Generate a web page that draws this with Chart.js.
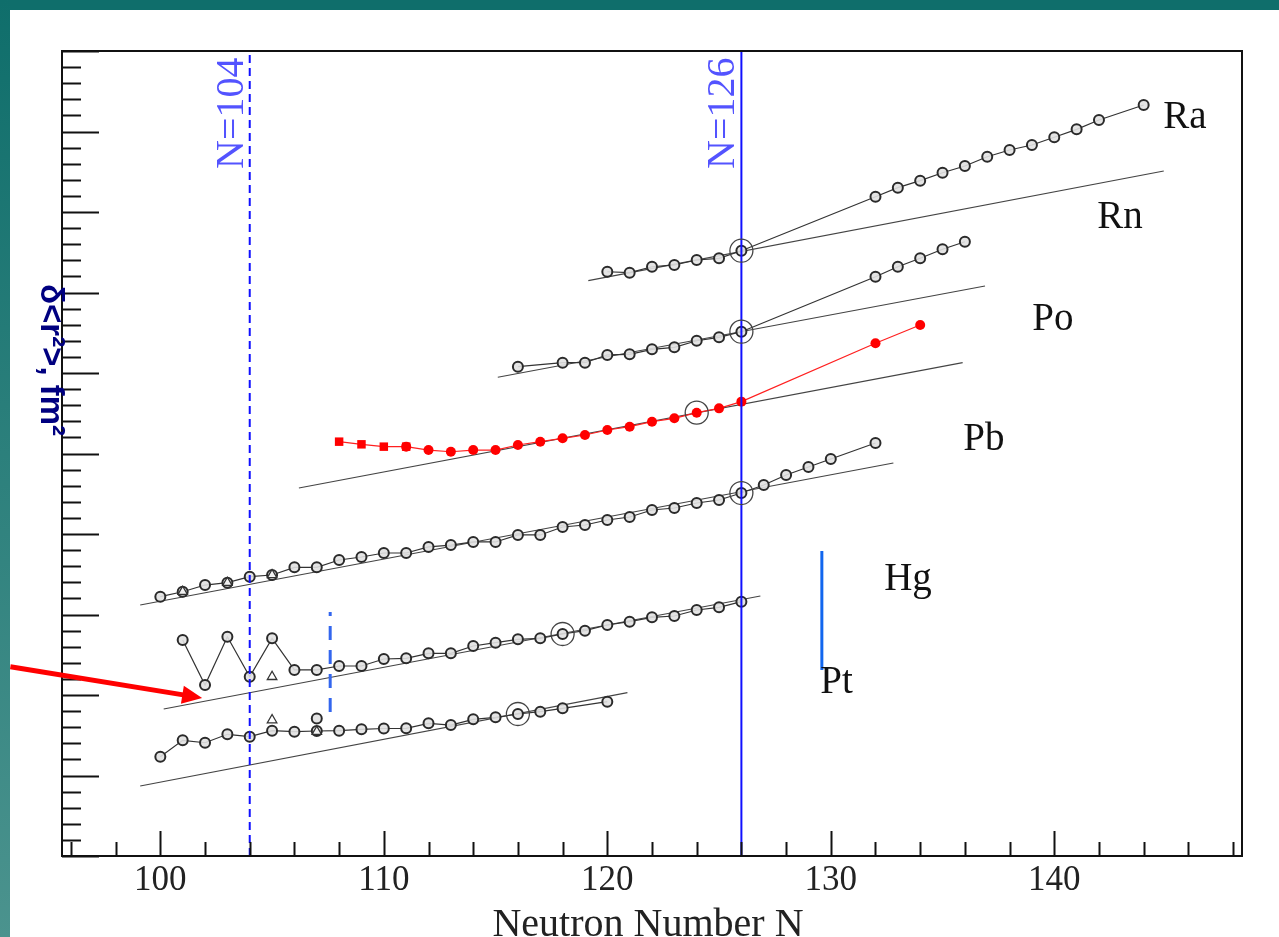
<!DOCTYPE html>
<html lang="en">
<head>
    <meta charset="UTF-8">
    <title>Charge radii vs neutron number</title>
    <script src="https://cdn.jsdelivr.net/npm/chart.js"></script>
    <style>
        html, body {
            margin: 0;
            padding: 0;
            width: 1279px;
            height: 937px;
            overflow: hidden;
            background: #ffffff;
        }
        #topBand {
            position: absolute;
            left: 0; top: 0;
            width: 1279px; height: 10px;
            background: #0f6e6b;
        }
        #leftBand {
            position: absolute;
            left: 0; top: 0;
            width: 10px; height: 937px;
            background: linear-gradient(#0f6e6b, #4b938e);
        }
        #myChart {
            position: absolute;
            left: 0; top: 0;
        }
    </style>
</head>
<body>
<div id="topBand"></div>
<div id="leftBand"></div>
<canvas id="myChart" width="1279" height="937"></canvas>

<script>
    // neutron numbers and delta<r^2> (arbitrary axis units)
    const ptN = [100, 101, 102, 103, 104, 105, 106, 107, 108, 109, 110, 111, 112, 113, 114, 115, 116, 117, 118, 120];
    const ptR = [1.234, 1.437, 1.407, 1.512, 1.482, 1.557, 1.544, 1.553, 1.557, 1.574, 1.584, 1.586, 1.648, 1.627, 1.698, 1.723, 1.764, 1.793, 1.835, 1.917];

    const hgN = [101, 102, 103, 104, 105, 106, 107, 108, 109, 110, 111, 112, 113, 114, 115, 116, 117, 118, 119, 120, 121, 122, 123, 124, 125, 126];
    const hgR = [2.683, 2.124, 2.724, 2.227, 2.704, 2.311, 2.311, 2.360, 2.360, 2.447, 2.456, 2.518, 2.518, 2.609, 2.650, 2.692, 2.704, 2.758, 2.799, 2.870, 2.911, 2.965, 2.981, 3.056, 3.089, 3.159];

    const pbN = [100, 101, 102, 103, 104, 105, 106, 107, 108, 109, 110, 111, 112, 113, 114, 115, 116, 117, 118, 119, 120, 121, 122, 123, 124, 125, 126, 127, 128, 129, 130, 132];
    const pbR = [3.221, 3.283, 3.366, 3.395, 3.470, 3.491, 3.586, 3.586, 3.677, 3.714, 3.764, 3.764, 3.839, 3.863, 3.901, 3.901, 3.988, 3.988, 4.087, 4.112, 4.174, 4.211, 4.298, 4.323, 4.385, 4.422, 4.509, 4.609, 4.733, 4.832, 4.932, 5.130];

    const redSqN = [108, 109, 110, 111];
    const redSqR = [5.147, 5.114, 5.085, 5.085];
    const redN = [111, 112, 113, 114, 115, 116, 117, 118, 119, 120, 121, 122, 123, 124, 125, 126, 132, 134];
    const redR = [5.085, 5.043, 5.022, 5.043, 5.043, 5.106, 5.147, 5.189, 5.230, 5.292, 5.333, 5.395, 5.437, 5.507, 5.561, 5.644, 6.369, 6.596];

    const poN = [116, 118, 119, 120, 121, 122, 123, 124, 125, 126, 132, 133, 134, 135, 136];
    const poR = [6.078, 6.128, 6.128, 6.224, 6.232, 6.294, 6.319, 6.401, 6.443, 6.513, 7.196, 7.320, 7.425, 7.537, 7.631];

    const raN = [120, 121, 122, 123, 124, 125, 126, 132, 133, 134, 135, 136, 137, 138, 139, 140, 141, 142, 144];
    const raR = [7.258, 7.246, 7.320, 7.342, 7.404, 7.425, 7.519, 8.190, 8.302, 8.389, 8.488, 8.571, 8.687, 8.770, 8.832, 8.928, 9.027, 9.143, 9.329];

    // extra markers
    const triN = [105, 107, 105, 101, 103, 105];
    const triR = [1.689, 1.544, 2.227, 3.283, 3.395, 3.491];
    const extraCircN = [107];
    const extraCircR = [1.708];
    const ringN = [126, 126, 124, 126, 118, 116];
    const ringR = [7.519, 6.513, 5.507, 4.509, 2.758, 1.764];

    // straight reference lines (start, end)
    const fitPtN = [99.1, 120.9];  const fitPtR = [0.870, 2.029];
    const fitHgN = [100.15, 126.85]; const fitHgR = [1.826, 3.230];
    const fitPbN = [99.1, 132.8];  const fitPbR = [3.118, 4.882];
    const fitRedN = [106.2, 135.9]; const fitRedR = [4.571, 6.128];
    const fitPoN = [115.1, 136.9]; const fitPoR = [5.947, 7.081];
    const fitRaN = [119.15, 144.9]; const fitRaR = [7.147, 8.509];

    // element labels
    const elemNames = ['Ra', 'Rn', 'Po', 'Pb', 'Hg', 'Pt'];
    const elemN = [144.88, 141.92, 139.02, 135.93, 132.39, 129.53];
    const elemR = [9.168, 7.925, 6.658, 5.168, 3.429, 2.149];

    const xTickLabels = [100, 110, 120, 130, 140];

    function pts(n, r) {
        return n.map((v, i) => ({ x: v, y: r[i] }));
    }

    function fitLine(n, r) {
        return {
            data: pts(n, r),
            borderColor: '#444',
            borderWidth: 1.2,
            pointRadius: 0,
            order: 5
        };
    }

    function chain(n, r) {
        return {
            data: pts(n, r),
            borderColor: '#333',
            borderWidth: 1.2,
            pointRadius: 5,
            pointBorderWidth: 2,
            pointBorderColor: '#2a2a2a',
            pointBackgroundColor: 'rgba(225,225,225,0.9)',
            order: 3
        };
    }

    function vline(x, y0, y1, color, width, dash) {
        return {
            data: [{ x: x, y: y0 }, { x: x, y: y1 }],
            borderColor: color,
            borderWidth: width,
            borderDash: dash,
            pointRadius: 0,
            order: 1
        };
    }

    const overlay = {
        id: 'overlay',
        afterDraw(chart) {
            const ctx = chart.ctx;
            const xs = chart.scales.x;
            const ys = chart.scales.y;
            const a = chart.chartArea;
            ctx.save();

            // frame
            ctx.strokeStyle = '#111';
            ctx.lineWidth = 2;
            ctx.strokeRect(a.left, a.top, a.right - a.left, a.bottom - a.top);

            // y ticks (left side, pointing inward)
            for (let i = 0; i <= 50; i++) {
                const v = i * 0.2;
                const py = Math.round(ys.getPixelForValue(v)) + 0.5;
                const len = (i % 5 === 0) ? 37 : 19;
                ctx.beginPath();
                ctx.moveTo(a.left, py);
                ctx.lineTo(a.left + len, py);
                ctx.stroke();
            }
            // x ticks
            for (let v = 96; v <= 148; v += 2) {
                const px = Math.round(xs.getPixelForValue(v)) + 0.5;
                const len = (v % 10 === 0) ? 25 : 14;
                ctx.beginPath();
                ctx.moveTo(px, a.bottom);
                ctx.lineTo(px, a.bottom - len);
                ctx.stroke();
            }

            // x tick labels
            ctx.fillStyle = '#222';
            ctx.font = '35px "Liberation Serif", "DejaVu Serif", serif';
            ctx.textAlign = 'center';
            ctx.textBaseline = 'middle';
            xTickLabels.forEach(v => {
                ctx.fillText(String(v), xs.getPixelForValue(v), 881);
            });

            // x title
            ctx.font = '40px "Liberation Serif", "DejaVu Serif", serif';
            ctx.textBaseline = 'alphabetic';
            ctx.fillText('Neutron Number N', 648, 936);

            // y title, rotated clockwise
            ctx.save();
            ctx.translate(41, 284);
            ctx.rotate(Math.PI / 2);
            ctx.fillStyle = '#000080';
            ctx.font = 'bold 33px "Liberation Sans", Arial, sans-serif';
            ctx.textAlign = 'left';
            ctx.textBaseline = 'alphabetic';
            ctx.fillText('δ<r²>, fm²', 0, 0);
            ctx.restore();

            // N=104 / N=126 labels, rotated counter-clockwise
            [[104, 'N=104'], [126, 'N=126']].forEach(([n, txt]) => {
                ctx.save();
                ctx.translate(xs.getPixelForValue(n) - 7, 169);
                ctx.rotate(-Math.PI / 2);
                ctx.fillStyle = 'rgba(40,40,255,0.8)';
                ctx.font = '40px "Liberation Serif", "DejaVu Serif", serif';
                ctx.textAlign = 'left';
                ctx.textBaseline = 'alphabetic';
                ctx.fillText(txt, 0, 0);
                ctx.restore();
            });

            // element names
            ctx.fillStyle = '#111';
            ctx.font = '39px "Liberation Serif", "DejaVu Serif", serif';
            ctx.textAlign = 'left';
            ctx.textBaseline = 'middle';
            elemNames.forEach((name, i) => {
                ctx.fillText(name, xs.getPixelForValue(elemN[i]), ys.getPixelForValue(elemR[i]));
            });

            // red arrow pointing at the Hg reference line
            const x0 = xs.getPixelForValue(93.29), y0 = ys.getPixelForValue(2.352);
            const x1 = xs.getPixelForValue(101.87), y1 = ys.getPixelForValue(1.963);
            const ang = Math.atan2(y1 - y0, x1 - x0);
            ctx.strokeStyle = '#ff0000';
            ctx.fillStyle = '#ff0000';
            ctx.lineWidth = 5;
            ctx.beginPath();
            ctx.moveTo(x0, y0);
            ctx.lineTo(x1 - 16 * Math.cos(ang), y1 - 16 * Math.sin(ang));
            ctx.stroke();
            ctx.beginPath();
            ctx.moveTo(x1, y1);
            ctx.lineTo(x1 - 20 * Math.cos(ang) + 9 * Math.sin(ang), y1 - 20 * Math.sin(ang) - 9 * Math.cos(ang));
            ctx.lineTo(x1 - 20 * Math.cos(ang) - 9 * Math.sin(ang), y1 - 20 * Math.sin(ang) + 9 * Math.cos(ang));
            ctx.closePath();
            ctx.fill();

            ctx.restore();
        }
    };

    const ctx = document.getElementById('myChart').getContext('2d');
    const chart = new Chart(ctx, {
        type: 'line',
        data: {
            datasets: [
                vline(104, 0, 10, '#1010ff', 2, [8, 5]),
                vline(126, 0, 10, '#1010ff', 2, []),
                vline(107.6, 1.789, 3.031, '#3366ee', 3, [14, 10]),
                vline(129.6, 2.311, 3.789, '#1166ee', 3, []),
                fitLine(fitPtN, fitPtR),
                fitLine(fitHgN, fitHgR),
                fitLine(fitPbN, fitPbR),
                fitLine(fitRedN, fitRedR),
                fitLine(fitPoN, fitPoR),
                fitLine(fitRaN, fitRaR),
                chain(ptN, ptR),
                chain(hgN, hgR),
                chain(pbN, pbR),
                chain(poN, poR),
                chain(raN, raR),
                {
                    data: pts(redN, redR),
                    borderColor: '#ff2020',
                    borderWidth: 1.2,
                    pointRadius: 5,
                    pointBorderWidth: 0,
                    pointBackgroundColor: '#ff0000',
                    order: 2
                },
                {
                    data: pts(redSqN, redSqR),
                    borderColor: '#ff2020',
                    borderWidth: 1.2,
                    pointStyle: 'rect',
                    pointRadius: 6,
                    pointBorderWidth: 0,
                    pointBackgroundColor: '#ff0000',
                    order: 2
                },
                {
                    data: pts(triN, triR),
                    showLine: false,
                    pointStyle: 'triangle',
                    pointRadius: 5.5,
                    pointBorderWidth: 1.3,
                    pointBorderColor: '#333',
                    pointBackgroundColor: 'rgba(255,255,255,0.6)',
                    order: 2
                },
                {
                    data: pts(extraCircN, extraCircR),
                    showLine: false,
                    pointRadius: 5,
                    pointBorderWidth: 2,
                    pointBorderColor: '#2a2a2a',
                    pointBackgroundColor: 'rgba(225,225,225,0.9)',
                    order: 2
                },
                {
                    data: pts(ringN, ringR),
                    showLine: false,
                    pointRadius: 11.5,
                    pointBorderWidth: 1.3,
                    pointBorderColor: '#444',
                    pointBackgroundColor: 'rgba(0,0,0,0)',
                    order: 0
                }
            ]
        },
        options: {
            responsive: false,
            animation: false,
            devicePixelRatio: 1,
            layout: {
                padding: { left: 62, top: 51, right: 37, bottom: 81 }
            },
            plugins: {
                legend: { display: false },
                tooltip: { enabled: false }
            },
            scales: {
                x: { type: 'linear', min: 95.6, max: 148.4, display: false },
                y: { type: 'linear', min: 0, max: 10, display: false }
            }
        },
        plugins: [overlay]
    });
</script>

</body>
</html>
